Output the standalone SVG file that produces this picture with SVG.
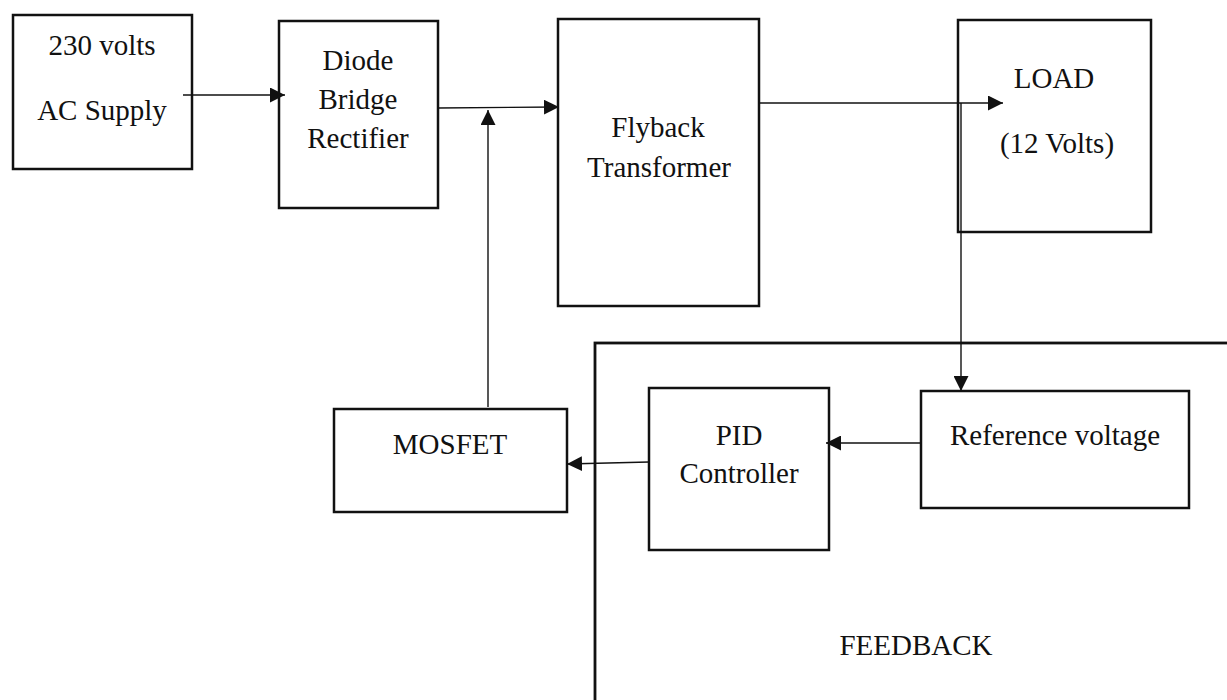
<svg xmlns="http://www.w3.org/2000/svg" width="1227" height="700" viewBox="0 0 1227 700">
<style>
.box{fill:none;stroke:#111;stroke-width:2.5}
.outer{fill:none;stroke:#111;stroke-width:2.8}
.t{font-family:"Liberation Serif","Times New Roman",serif;font-size:29px;fill:#111;text-anchor:middle}
.c{fill:none;stroke:#111;stroke-width:1.4}
</style>
<defs>
<marker id="ah" markerUnits="userSpaceOnUse" markerWidth="16" markerHeight="15" refX="15" refY="7.5" orient="auto">
<path d="M0,0 L15,7.5 L0,15 Z" fill="#111"/>
</marker>
</defs>
<rect width="1227" height="700" fill="#fff"/>
<g id="feedback">
<rect class="outer" x="595" y="343" width="700" height="400"/>
<text class="t" x="916" y="655">FEEDBACK</text>
</g>
<g id="ac-supply">
<rect class="box" x="13" y="15" width="179" height="154"/>
<text class="t" x="102" y="55">230 volts</text>
<text class="t" x="102" y="120">AC Supply</text>
</g>
<g id="diode-bridge">
<rect class="box" x="279" y="21" width="159" height="187"/>
<text class="t" x="358" y="70">Diode</text>
<text class="t" x="358" y="109">Bridge</text>
<text class="t" x="358" y="148">Rectifier</text>
</g>
<g id="flyback">
<rect class="box" x="558" y="19" width="201" height="287"/>
<text class="t" x="658" y="137">Flyback</text>
<text class="t" x="659" y="177">Transformer</text>
</g>
<g id="load">
<rect class="box" x="958" y="20" width="193" height="212"/>
<text class="t" x="1054" y="88">LOAD</text>
<text class="t" x="1057" y="153">(12 Volts)</text>
</g>
<g id="mosfet">
<rect class="box" x="334" y="409" width="233" height="103"/>
<text class="t" x="450" y="454">MOSFET</text>
</g>
<g id="pid">
<rect class="box" x="649" y="388" width="180" height="162"/>
<text class="t" x="739" y="445">PID</text>
<text class="t" x="739" y="483">Controller</text>
</g>
<g id="reference">
<rect class="box" x="921" y="391" width="268" height="117"/>
<text class="t" x="1055" y="445">Reference voltage</text>
</g>
<g id="connectors">
<line class="c" x1="183" y1="95" x2="285" y2="95" marker-end="url(#ah)"/>
<line class="c" x1="438" y1="108" x2="559" y2="107" marker-end="url(#ah)"/>
<line class="c" x1="488" y1="407" x2="488" y2="110" marker-end="url(#ah)"/>
<line class="c" x1="759" y1="103" x2="1003" y2="103" marker-end="url(#ah)"/>
<line class="c" x1="961" y1="103" x2="961" y2="391" marker-end="url(#ah)"/>
<line class="c" x1="921" y1="443" x2="826" y2="443" marker-end="url(#ah)"/>
<line class="c" x1="649" y1="462" x2="567" y2="464" marker-end="url(#ah)"/>
</g>
</svg>
